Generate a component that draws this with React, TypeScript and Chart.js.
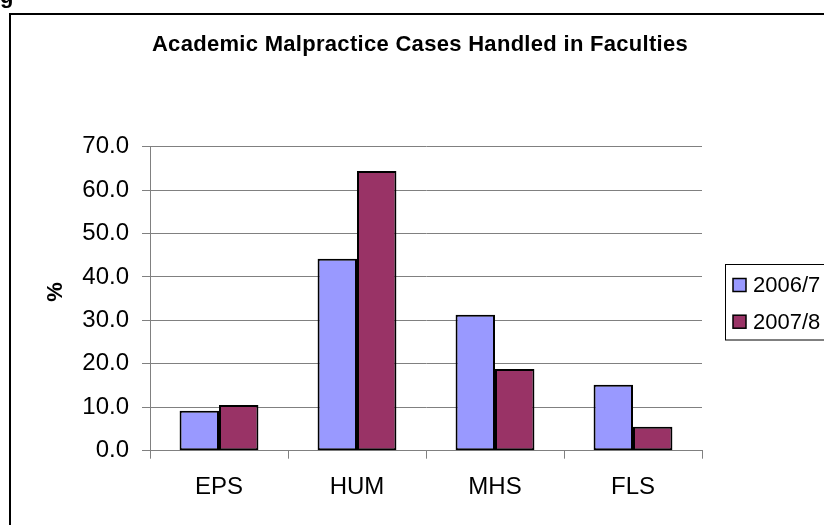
import React, { useEffect, useRef } from "react";
import { Chart, registerables } from "chart.js";

Chart.register(...registerables);

const categories = ["EPS", "HUM", "MHS", "FLS"];
const seriesLabels = ["2006/7", "2007/8"];
const values2006 = [9.2, 44.2, 31.3, 15.2];
const values2007 = [10.5, 64.4, 18.8, 5.5];
const seriesColors = ["#9999FF", "#993366"];
const yMin = 0;
const yMax = 70;
const yStep = 10;
const chartTitle = "Academic Malpractice Cases Handled in Faculties";
const yAxisTitle = "%";

const FONT = "'Liberation Sans', Arial, Helvetica, sans-serif";
const W = 840;
const H = 540;

const overlayPlugin = {
  id: "overlay",
  afterDraw(chart: any) {
    const ctx = chart.ctx as CanvasRenderingContext2D;
    ctx.save();
    // Title
    ctx.font = `bold 22px ${FONT}`;
    ctx.fillStyle = "#000";
    ctx.textAlign = "center";
    ctx.textBaseline = "alphabetic";
    (ctx as any).letterSpacing = "0.3px";
    ctx.fillText(chartTitle, chart.width / 2, 51);
    (ctx as any).letterSpacing = "0px";

    // Y axis title
    ctx.save();
    ctx.translate(56, 292);
    ctx.rotate(-Math.PI / 2);
    ctx.font = `bold 22px ${FONT}`;
    ctx.textAlign = "center";
    ctx.textBaseline = "middle";
    ctx.fillText(yAxisTitle, 0, 0);
    ctx.restore();

    // Legend
    ctx.strokeStyle = "#000";
    ctx.lineWidth = 1;
    ctx.strokeRect(725.5, 264.5, 200, 75.5);
    chart.data.datasets.forEach((ds: any, i: number) => {
      const cy = 285 + i * 36.7;
      ctx.fillStyle = ds.backgroundColor;
      ctx.fillRect(733, cy - 6.5, 13, 13);
      ctx.lineWidth = 1.5;
      ctx.strokeStyle = "#000";
      ctx.strokeRect(733, cy - 6.5, 13, 13);
      ctx.fillStyle = "#000";
      ctx.textAlign = "left";
      ctx.textBaseline = "middle";
      ctx.font = `22px ${FONT}`;
      ctx.fillText(ds.label, 753, cy + 1);
    });
    ctx.restore();
  },
};

const whiteBg = {
  id: "whiteBg",
  beforeDraw(chart: any) {
    const ctx = chart.ctx;
    ctx.save();
    ctx.fillStyle = "#fff";
    ctx.fillRect(0, 0, chart.width, chart.height);
    ctx.restore();
  },
};

export default function App() {
  const ref = useRef<HTMLCanvasElement | null>(null);

  useEffect(() => {
    if (!ref.current) return;
    const chart = new Chart(ref.current, {
      type: "bar",
      data: {
        labels: categories,
        datasets: [
          {
            label: seriesLabels[0],
            data: values2006,
            backgroundColor: seriesColors[0],
            borderColor: "#000",
            borderWidth: 2,
            borderSkipped: false,
          },
          {
            label: seriesLabels[1],
            data: values2007,
            backgroundColor: seriesColors[1],
            borderColor: "#000",
            borderWidth: 2,
            borderSkipped: false,
          },
        ],
      },
      options: {
        responsive: false,
        maintainAspectRatio: false,
        animation: false,
        devicePixelRatio: 1,
        layout: { padding: { left: 0, right: W - 702, top: 146.7, bottom: 0 } },
        plugins: {
          legend: { display: false },
          title: { display: false },
          tooltip: { enabled: false },
        },
        datasets: {
          bar: { categoryPercentage: 2 / 3.5, barPercentage: 1 },
        },
        scales: {
          x: {
            afterFit: (s: any) => {
              s.height = H - 450.7;
            },
            grid: {
              display: true,
              drawOnChartArea: false,
              drawTicks: true,
              tickLength: 8,
              color: "#808080",
              lineWidth: 1,
              offset: true,
            },
            border: { display: true, color: "#808080", width: 1 },
            ticks: {
              color: "#000",
              font: { family: FONT, size: 24 },
              padding: 14,
              maxRotation: 0,
            },
          },
          y: {
            min: yMin,
            max: yMax,
            afterFit: (s: any) => {
              s.width = 150;
            },
            grid: {
              color: "#808080",
              lineWidth: 1,
              drawTicks: true,
              tickLength: 8,
            },
            border: { display: true, color: "#808080", width: 1 },
            ticks: {
              stepSize: yStep,
              color: "#000",
              font: { family: FONT, size: 24 },
              padding: 13,
              callback: (v: any) => Number(v).toFixed(1),
            },
            title: { display: false },
          },
        },
      },
      plugins: [whiteBg, overlayPlugin],
    });
    return () => chart.destroy();
  }, []);

  return (
    <div
      style={{
        position: "fixed",
        left: 0,
        top: 0,
        width: 824,
        height: 525,
        overflow: "hidden",
        background: "#fff",
      }}
    >
      <canvas
        ref={ref}
        width={W}
        height={H}
        style={{ position: "absolute", left: 0, top: 0, width: W, height: H }}
      />
      <span
        style={{
          position: "absolute",
          left: 0,
          top: -15,
          font: `bold 22px ${FONT}`,
          lineHeight: "22px",
          color: "#000",
        }}
      >
        g
      </span>
      <div
        style={{
          position: "absolute",
          left: 9,
          top: 13,
          width: 900,
          height: 600,
          border: "2px solid #000",
          pointerEvents: "none",
        }}
      />
    </div>
  );
}
